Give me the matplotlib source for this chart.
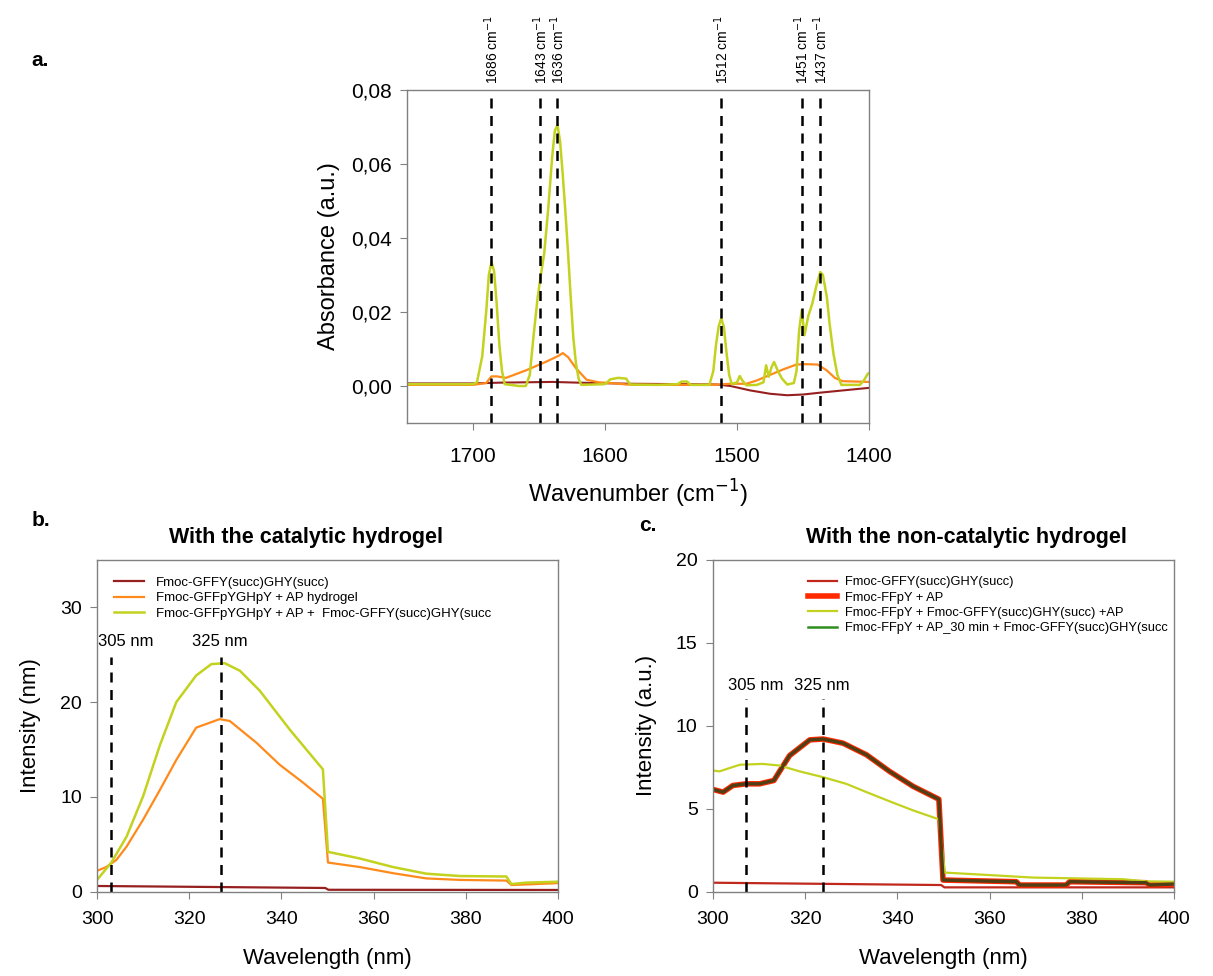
import numpy as np
import matplotlib.pyplot as plt
from matplotlib.ticker import FuncFormatter

plt.rcParams['font.family'] = ['Liberation Sans', 'DejaVu Sans']

# ---- panel a: FTIR ----
wn_yel = [1750, 1700, 1697, 1693, 1690, 1688, 1686, 1684, 1682, 1680, 1678, 1676, 1665, 1660,
          1657, 1654, 1651, 1649, 1646, 1643, 1640, 1638, 1636, 1634, 1632, 1630, 1628, 1626,
          1624, 1622, 1620, 1618, 1600, 1596, 1590, 1584, 1581, 1560, 1545, 1542, 1538, 1535,
          1521, 1518, 1516, 1514, 1512, 1510, 1508, 1506, 1504, 1500, 1498, 1496, 1493, 1485,
          1480, 1478, 1476, 1474, 1472, 1469, 1466, 1462, 1457, 1455, 1453, 1451, 1449, 1446,
          1443, 1440, 1437, 1435, 1432, 1430, 1427, 1424, 1421, 1407, 1404, 1401, 1400]
abs_yel = [0.0005, 0.0005, 0.001, 0.008, 0.020, 0.030, 0.0335, 0.031, 0.022, 0.011, 0.004, 0.0005, 0.0, 0.0,
           0.003, 0.014, 0.024, 0.029, 0.036, 0.048, 0.062, 0.069, 0.0705, 0.066, 0.057, 0.047, 0.036, 0.024,
           0.013, 0.006, 0.002, 0.0003, 0.0005, 0.0018, 0.0022, 0.002, 0.0004, 0.0003, 0.0005, 0.0012, 0.0012, 0.0003,
           0.0003, 0.004, 0.011, 0.016, 0.0183, 0.016, 0.009, 0.003, 0.0005, 0.001, 0.0027, 0.0015, 0.0002, 0.0003,
           0.001, 0.0056, 0.0025, 0.005, 0.0065, 0.004, 0.002, 0.0004, 0.0008, 0.004, 0.015, 0.0205, 0.0137, 0.019,
           0.0223, 0.027, 0.0308, 0.030, 0.024, 0.017, 0.0087, 0.003, 0.0003, 0.0003, 0.0015, 0.0033, 0.0035]

wn_ora = [1750, 1700, 1690, 1686, 1682, 1675, 1660, 1645, 1635, 1632, 1628, 1622, 1614, 1605, 1596,
          1580, 1550, 1520, 1505, 1493, 1485, 1475, 1465, 1455, 1448, 1439, 1432, 1426, 1420, 1400]
abs_ora = [0.0003, 0.0003, 0.0008, 0.0026, 0.0026, 0.0022, 0.0042, 0.0065, 0.0082, 0.0089, 0.0078, 0.0048,
           0.0017, 0.001, 0.0008, 0.0003, 0.0003, 0.0003, 0.0006, 0.0006, 0.0015, 0.003, 0.0045, 0.0058,
           0.0059, 0.0058, 0.0042, 0.0022, 0.0013, 0.0011]

wn_red = [1750, 1700, 1680, 1640, 1620, 1580, 1540, 1515, 1505, 1490, 1475, 1462, 1450, 1437, 1420, 1400]
abs_red = [0.0007, 0.0007, 0.0009, 0.0011, 0.0009, 0.0006, 0.0005, 0.0004, 0.0, -0.0012, -0.0021,
           -0.0025, -0.0023, -0.0018, -0.0012, -0.0005]

peak_pos = [1686, 1649, 1636, 1512, 1451, 1437]
peak_labels = ['1686', '1643', '1636', '1512', '1451', '1437']

# ---- panel b: catalytic hydrogel ----
wl_b_yel = [300, 303.1, 306.4, 310, 313.6, 317.2, 321.5, 324.8, 327.7, 331, 335.3, 341.8, 349,
            350.1, 357, 364.2, 371.4, 378.7, 388.8, 389.9, 393, 400]
int_b_yel = [1.24, 3.07, 5.8, 10.07, 15.4, 20.0, 22.8, 24.0, 24.1, 23.3, 21.2, 17.1, 12.9,
             4.2, 3.5, 2.6, 1.9, 1.65, 1.6, 0.8, 0.95, 1.05]
wl_b_ora = [300, 302, 304.2, 306.4, 310, 313.6, 317.2, 321.5, 326.6, 328.8, 334.6, 339.6, 344.7, 349,
            350.1, 357, 364.2, 371.4, 378.7, 388.8, 389.9, 400]
int_b_ora = [2.2, 2.6, 3.35, 4.75, 7.6, 10.7, 13.9, 17.3, 18.2, 18.0, 15.7, 13.4, 11.5, 9.8,
             3.07, 2.6, 1.95, 1.4, 1.24, 1.17, 0.7, 0.9]
wl_b_red = [300, 349.5, 350.2, 400]
int_b_red = [0.6, 0.39, 0.2, 0.18]
b_lines = [303, 327]
b_text_x = [306.2, 326.6]
b_labels = ['305 nm', '325 nm']
b_legend = ['Fmoc-GFFY(succ)GHY(succ)', 'Fmoc-GFFpYGHpY + AP hydrogel',
            'Fmoc-GFFpYGHpY + AP +  Fmoc-GFFY(succ)GHY(succ']

# ---- panel c: non-catalytic hydrogel ----
wl_c_ap = [300, 302.2, 304.3, 307.2, 310.1, 313.2, 316.6, 321, 323.9, 328.2, 333.3, 338.3, 343.4, 349,
           349.9, 365.8, 366.5, 376.6, 377.4, 394, 394.7, 400]
int_c_ap = [6.16, 6.0, 6.4, 6.5, 6.5, 6.7, 8.2, 9.15, 9.2, 8.95, 8.25, 7.25, 6.35, 5.57,
            0.7, 0.6, 0.4, 0.4, 0.6, 0.54, 0.4, 0.46]
wl_c_yel = [300, 301.4, 305.8, 310.8, 314.5, 318.8, 323.9, 328.9, 333.3, 339, 343.4, 349,
            350.3, 360, 369.4, 389, 394, 400]
int_c_yel = [7.3, 7.25, 7.65, 7.7, 7.6, 7.25, 6.9, 6.5, 6.0, 5.37, 4.9, 4.36,
             1.15, 1.0, 0.85, 0.75, 0.62, 0.6]
wl_c_red = [300, 349.5, 350.2, 400]
int_c_red = [0.54, 0.4, 0.26, 0.26]
c_lines = [307.2, 323.9]
c_text_x = [309.2, 323.6]
c_labels = ['305 nm', '325 nm']
c_legend = ['Fmoc-GFFY(succ)GHY(succ)', 'Fmoc-FFpY + AP',
            'Fmoc-FFpY + Fmoc-GFFY(succ)GHY(succ) +AP',
            'Fmoc-FFpY + AP_30 min + Fmoc-GFFY(succ)GHY(succ']

DARKRED = '#962020'
ORANGE = '#ff8a1c'
YELLOW = '#c3d21e'
RED = '#ff2a00'
GREEN = '#2f8f1f'
SPINE = '#808080'


def style(ax, size, pad):
    for s in ax.spines.values():
        s.set_color(SPINE)
        s.set_linewidth(1.0)
    ax.tick_params(direction='out', length=5, color=SPINE, labelsize=size, top=False, right=False)
    ax.tick_params(axis='x', pad=pad)
    ax.tick_params(axis='y', pad=6)


fig = plt.figure(figsize=(12.13, 9.76), dpi=100)

# panel a
ax = fig.add_axes([0.3355, 0.5666, 0.381, 0.3412])
ax.plot(wn_red, abs_red, color=DARKRED, lw=1.5)
ax.plot(wn_ora, abs_ora, color=ORANGE, lw=1.6)
ax.plot(wn_yel, abs_yel, color=YELLOW, lw=1.8)
for p, lab in zip(peak_pos, peak_labels):
    ax.axvline(p, color='black', ls=(0, (4, 3)), lw=1.8)
    ax.text(p, 0.0815, lab + ' cm$^{-1}$', rotation=90, ha='center', va='bottom', fontsize=10)
ax.set_xlim(1750, 1400)
ax.set_ylim(-0.01, 0.08)
ax.set_xticks([1700, 1600, 1500, 1400])
ax.set_yticks([0.0, 0.02, 0.04, 0.06, 0.08])
ax.yaxis.set_major_formatter(FuncFormatter(lambda v, _: f'{v:.2f}'.replace('.', ',')))
style(ax, 15, 12)
ax.set_xlabel('Wavenumber (cm$^{-1}$)', fontsize=17, labelpad=9)
ax.set_ylabel('Absorbance (a.u.)', fontsize=17, labelpad=8)

# panel b
bx = fig.add_axes([0.080, 0.0864, 0.380, 0.340])
bx.plot(wl_b_red, int_b_red, color=DARKRED, lw=1.6, label=b_legend[0])
bx.plot(wl_b_ora, int_b_ora, color=ORANGE, lw=1.6, label=b_legend[1])
bx.plot(wl_b_yel, int_b_yel, color=YELLOW, lw=1.8, label=b_legend[2])
bx.vlines(b_lines, 0, 24.8, color='black', ls=(0, (4, 3)), lw=1.8)
for x, lab in zip(b_text_x, b_labels):
    bx.text(x, 26.4, lab, ha='center', va='center', fontsize=12)
bx.set_xlim(300, 400)
bx.set_ylim(0, 35)
bx.set_yticks([0, 10, 20, 30])
style(bx, 14, 9)
bx.set_title('With the catalytic hydrogel', fontsize=15.5, fontweight='bold', pad=12, x=0.453)
bx.set_xlabel('Wavelength (nm)', fontsize=16, labelpad=14)
bx.set_ylabel('Intensity (nm)', fontsize=16, labelpad=14)
bx.legend(loc='upper left', bbox_to_anchor=(0.01, 0.985), frameon=False, fontsize=9.5,
          handlelength=2.3, handletextpad=0.9, labelspacing=0.25)

# panel c
cx = fig.add_axes([0.5878, 0.0864, 0.380, 0.340])
cx.plot(wl_c_red, int_c_red, color='#c0281c', lw=1.6, label=c_legend[0])
cx.plot(wl_c_ap, int_c_ap, color=RED, lw=4.0, label=c_legend[1])
cx.plot(wl_c_yel, int_c_yel, color=YELLOW, lw=1.6, label=c_legend[2])
cx.plot(wl_c_ap, int_c_ap, color='#503f14', lw=2.4, label=c_legend[3])
cx.vlines(c_lines, 0, 11.6, color='black', ls=(0, (4, 3)), lw=1.8)
for x, lab in zip(c_text_x, c_labels):
    cx.text(x, 12.45, lab, ha='center', va='center', fontsize=12)
cx.set_xlim(300, 400)
cx.set_ylim(0, 20)
cx.set_yticks([0, 5, 10, 15, 20])
style(cx, 14, 9)
cx.set_title('With the non-catalytic hydrogel', fontsize=15.5, fontweight='bold', pad=12, x=0.549)
cx.set_xlabel('Wavelength (nm)', fontsize=16, labelpad=14)
cx.set_ylabel('Intensity (a.u.)', fontsize=16, labelpad=14)
hs, ls_ = cx.get_legend_handles_labels()
hs[3] = plt.Line2D([], [], color=GREEN, lw=1.8)
hs[0] = plt.Line2D([], [], color='#c0281c', lw=1.6)
cx.legend(hs, ls_, loc='upper left', bbox_to_anchor=(0.18, 0.985), frameon=False, fontsize=9.3,
          handlelength=2.3, handletextpad=0.6, labelspacing=0.25)

fig.text(0.026, 0.9385, 'a.', fontsize=15, fontweight='bold', va='center')
fig.text(0.026, 0.467, 'b.', fontsize=15, fontweight='bold', va='center')
fig.text(0.527, 0.462, 'c.', fontsize=15, fontweight='bold', va='center')

fig.savefig('out.png', dpi=100)
